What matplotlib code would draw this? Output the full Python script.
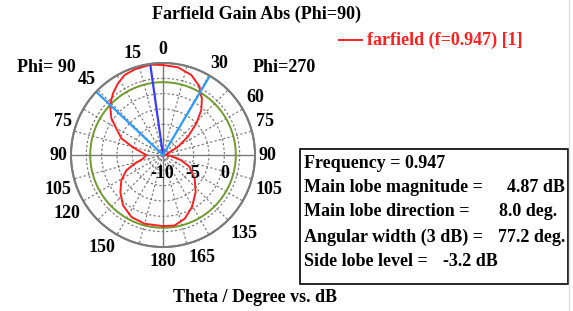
import numpy as np
import matplotlib.pyplot as plt
from matplotlib.patches import Rectangle

# Farfield gain (dB) read off the chart, angle measured clockwise from top
# negative angles = Phi=90 half (left), positive = Phi=270 half (right)
theta_deg = [-180, -165, -153, -141.5, -131, -121.3, -112.7, -107, -100.4, -90,
             -75.7, -68.2, -61.1, -54.6, -46.6, -39, -32.1, -25.6, -18.3, -8,
             0, 9.7, 19.5, 28.2, 30.6, 34.5, 40.4, 46.5, 53.7, 61, 71.6, 90,
             97, 106.2, 114.2, 126.8, 138.6, 150.9, 161.2, 170.6, 180]
gain_db = [1.6, 1.6, 1.35, 0.48, -0.79, -2.05, -3.52, -5.17, -6.68, -7.25,
           -4.95, -2.68, -1.4, 0.33, 1.87, 2.95, 3.8, 4.46, 4.71, 4.87,
           4.67, 4.5, 3.84, 2.64, 1.87, 1.2, -0.36, -2.5, -4.95, -7.2, -9.14, -9.6,
           -8.63, -6.89, -5.23, -3.55, -1.95, -0.29, 0.97, 1.65, 1.6]

frequency = 0.947
main_mag = 4.87
main_dir = -8.0
width_edges = [-46.6, 30.6]
side_lobe = -3.2
r_min, r_max = -10, 5
r_grid = [-7.5, -5, -2.5, 0, 2.5]

angle_labels = ['0', '15', '30', '45', '60', '75', '75', '90', '90', '105', '105',
                '120', '135', '150', '165', '180']
angle_label_px = [(163, 50), (133, 53), (219, 63), (87, 79), (255, 97), (63, 121), (265, 121),
                  (58, 156), (267, 156), (58, 190), (269, 190), (67, 213), (244, 233),
                  (102, 247), (202, 257), (163, 262)]
r_labels = ['-10', '-5', '0']
r_label_px = [(162, 173), (193, 173), (225, 173)]

info_lines = ['Frequency = 0.947', 'Main lobe magnitude =', 'Main lobe direction =',
              'Angular width (3 dB) =', 'Side lobe level =']
info_values = ['', '4.87 dB', '8.0 deg.', '77.2 deg.', '-3.2 dB']

W, H = 573, 311
FS = 13
GRAY = '#7a7a7a'
plt.rcParams['font.family'] = 'Liberation Serif'
plt.rcParams['font.weight'] = 'bold'
fig = plt.figure(figsize=(W / 100, H / 100), dpi=100)


def px(x, y):
    return x / W, 1 - y / H


cx, cy, rad = 163, 155, 92
ax = fig.add_axes([(cx - rad) / W, 1 - (cy + rad) / H, 2 * rad / W, 2 * rad / H],
                  projection='polar')
ax.set_theta_zero_location('N')
ax.set_theta_direction(-1)

# solid cross lines
for a in [0, 90]:
    t = np.deg2rad(a)
    ax.plot([t, t], [r_min, r_max], color=GRAY, lw=1.0)
    ax.plot([t + np.pi, t + np.pi], [r_min, r_max], color=GRAY, lw=1.0)

circ_t = np.linspace(0, 2 * np.pi, 361)
# outer ring
ax.plot(circ_t, np.full_like(circ_t, r_max), color=GRAY, lw=1.4, clip_on=False)
# 3 dB circle
ax.plot(circ_t, np.full_like(circ_t, main_mag - 3), color='#6f9a2e', lw=1.4)

# pattern
ax.plot(np.deg2rad(theta_deg), gain_db, color='#ff2020', lw=1.4)

# main lobe direction and 3 dB width lines
ax.plot([np.deg2rad(main_dir)] * 2, [r_min, r_max], color='#3a3aff', lw=1.6)
for e in width_edges:
    ax.plot([np.deg2rad(e)] * 2, [r_min, r_max], color='#2f9bff', lw=1.6)

ax.set_ylim(r_min, r_max)
ax.set_rgrids(r_grid, labels=[])
ax.set_thetagrids([a for a in range(0, 360, 15) if a % 90 != 0], labels=[])
ax.grid(True, color='#707070', linestyle=(0, (2, 2)), linewidth=0.8)
ax.spines['polar'].set_color(GRAY)
ax.spines['polar'].set_linewidth(1.4)
ax.tick_params(length=0)

for lab, (x, y) in zip(angle_labels, angle_label_px):
    fig.text(*px(x, y), lab, ha='center', va='center', fontsize=FS, fontweight='bold')
for lab, (x, y) in zip(r_labels, r_label_px):
    fig.text(*px(x, y), lab, ha='center', va='center', fontsize=FS, fontweight='bold')

fig.text(*px(256, 14), 'Farfield Gain Abs (Phi=90)', ha='center', va='center',
         fontsize=FS, fontweight='bold')
fig.text(*px(46, 68), 'Phi= 90', ha='center', va='center', fontsize=FS, fontweight='bold')
fig.text(*px(284, 68), 'Phi=270', ha='center', va='center', fontsize=FS, fontweight='bold')
fig.text(*px(255, 298), 'Theta / Degree vs. dB', ha='center', va='center',
         fontsize=FS, fontweight='bold')

# legend
fig.add_artist(plt.Line2D([339 / W, 362 / W], [1 - 40 / H] * 2, color='#ff2020', lw=1.4))
fig.text(*px(367, 40), 'farfield (f=0.947) [1]', ha='left', va='center',
         fontsize=FS, fontweight='bold', color='#ff2020')

# info box
x0, y0 = px(300, 284)
x1, y1 = px(568, 149)
fig.add_artist(Rectangle((x0, y0), x1 - x0, y1 - y0, transform=fig.transFigure,
                         fill=False, edgecolor='black', lw=1.2))
line_y = [163, 188, 212, 237, 262]
value_right = [0, 565, 557, 565, 498]
for txt, val, y, vx in zip(info_lines, info_values, line_y, value_right):
    fig.text(*px(304, y), txt, ha='left', va='center', fontsize=FS, fontweight='bold')
    if val:
        fig.text(*px(vx, y), val, ha='right', va='center', fontsize=FS, fontweight='bold')

# screenshot edge
fig.add_artist(plt.Line2D([569 / W] * 2, [0, 1], color='#e0e0e0', lw=1.0))

fig.savefig('out.png', dpi=100)
